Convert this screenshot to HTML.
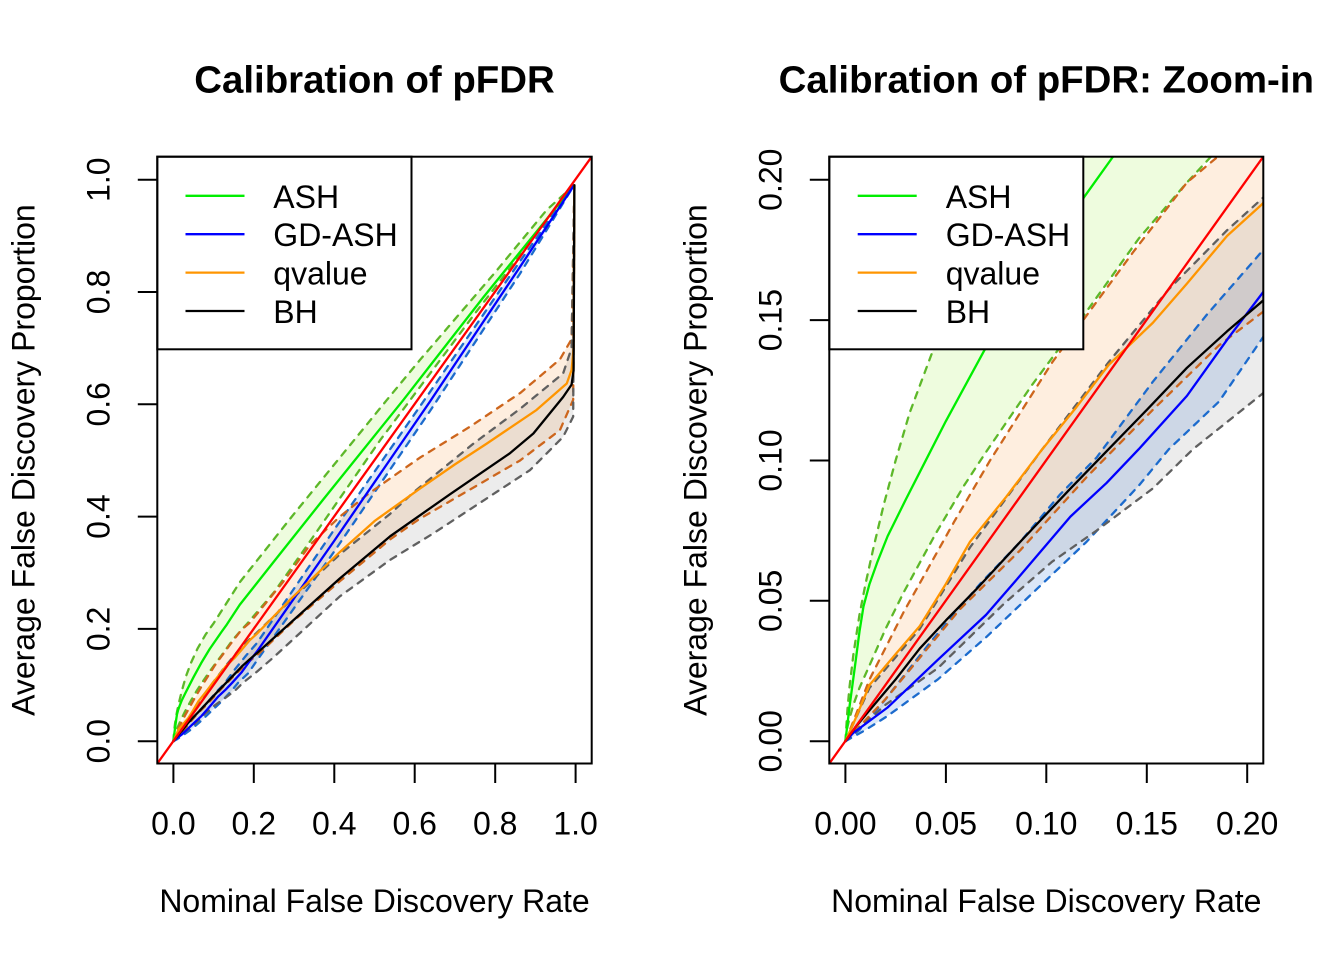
<!DOCTYPE html>
<html>
<head>
<meta charset="utf-8">
<style>
html,body{margin:0;padding:0;background:#fff;width:1344px;height:960px;overflow:hidden;}
svg{display:block;}
text{font-family:"Liberation Sans",Arial,sans-serif;fill:#000;}
</style>
</head>
<body>
<svg width="1344" height="960" viewBox="0 0 1344 960" xmlns="http://www.w3.org/2000/svg">
<rect x="0" y="0" width="1344" height="960" fill="#fff"/>
<defs>
  <clipPath id="clipL"><rect x="157.3" y="156.7" width="434.4" height="606.8"/></clipPath>
  <clipPath id="clipR"><rect x="829.3" y="156.7" width="434" height="606.8"/></clipPath>
  <g id="data">
    <!-- bands -->
    <polygon fill="#78E600" fill-opacity="0.13" points="0,0 1,11 2,19 4,31 7,45 10,56 14,69 19,84 25,100 32,117 44,140 60,165 80,190 100,210 166,284 300,405 531,608 613,679 800,835 928,946 996,990 750,762 514,536 331,347 250,265 183,209 170,199 146,179 120,153 93,127 70,103 59,91 45,74 29,53 20,40 12,27 7,19 4,13 2,8 1,5 0,0"/>
    <polygon fill="#286ED8" fill-opacity="0.17" points="0,0 7,4 20,15 42,35 67,56 87,71 107,88 125,101 153,128 180,152 208,175 400,377 638,622 862,855 996,990 862,833 638,588 400,338 208,144 186,121 161,104 146,91 120,71 95,54 70,37 46,22 21,9 10,4 0,0"/>
    <polygon fill="#F78C28" fill-opacity="0.15" points="0,0 5,9 12,22 29,46 54,78 72,100 103,135 143,174 170,199 190,211 273,284 340,350 414,400 480,438 539,468 613,505 737,560 862,620 961,680 990,716 997,990 994,608 961,554 862,500 737,448 610,395 540,360 414,285 300,215 208,153 186,141 153,118 120,94 87,68 57,47 20,15 0,0"/>
    <polygon fill="#808080" fill-opacity="0.15" points="0,0 12,19 37,40 62,69 98,104 131,135 161,161 190,182 207,193 290,250 414,333 539,405 600,445 746,530 862,592 969,655 990,700 997,990 994,578 969,542 887,483 646,370 539,323 414,258 250,150 208,124 173,104 153,90 125,75 103,64 79,49 46,26 20,13 0,0"/>
    <!-- dashed bounds -->
    <g fill="none" stroke-width="2.3" stroke-dasharray="6.5 7" stroke-linecap="round" stroke-linejoin="round">
      <polyline vector-effect="non-scaling-stroke" stroke="#5DB829" points="0,0 1,11 2,19 4,31 7,45 10,56 14,69 19,84 25,100 32,117 44,140 60,165 80,190 100,210 166,284 300,405 531,608 613,679 800,835 928,946 996,990"/>
      <polyline vector-effect="non-scaling-stroke" stroke="#5DB829" points="0,0 1,5 2,8 4,13 7,19 12,27 20,40 29,53 45,74 59,91 70,103 93,127 120,153 146,179 170,199 183,209 250,265 331,347 514,536 750,762 996,990"/>
      <polyline vector-effect="non-scaling-stroke" stroke="#1C6BCD" points="0,0 7,4 20,15 42,35 67,56 87,71 107,88 125,101 153,128 180,152 208,175 400,377 638,622 862,855 996,990"/>
      <polyline vector-effect="non-scaling-stroke" stroke="#1C6BCD" points="0,0 10,4 21,9 46,22 70,37 95,54 120,71 146,91 161,104 186,121 208,144 400,338 638,588 862,833 996,990"/>
      <polyline vector-effect="non-scaling-stroke" stroke="#CD661D" points="0,0 5,9 12,22 29,46 54,78 72,100 103,135 143,174 170,199 190,211 273,284 340,350 414,400 480,438 539,468 613,505 737,560 862,620 961,680 990,716 997,990"/>
      <polyline vector-effect="non-scaling-stroke" stroke="#CD661D" points="0,0 20,15 57,47 87,68 120,94 153,118 186,141 208,153 300,215 414,285 540,360 610,395 737,448 862,500 961,554 994,608 997,990"/>
      <polyline vector-effect="non-scaling-stroke" stroke="#606060" points="0,0 12,19 37,40 62,69 98,104 131,135 161,161 190,182 207,193 290,250 414,333 539,405 600,445 746,530 862,592 969,655 990,700 997,990"/>
      <polyline vector-effect="non-scaling-stroke" stroke="#606060" points="0,0 20,13 46,26 79,49 103,64 125,75 153,90 173,104 208,124 250,150 414,258 539,323 646,370 887,483 969,542 994,578 997,990"/>
    </g>
    <!-- means -->
    <g fill="none" stroke-width="2.3" stroke-linecap="round" stroke-linejoin="round">
      <polyline vector-effect="non-scaling-stroke" stroke="#00EE00" points="0,0 0.5,3 1,6 2,12 3.5,20 5,28 7,39 9,48 12,56 16,64 21,73 30,86 40,100 50,114 69,139 90,164 119,194 133,208 165,243 250,320 372,430 572,608 770,790 900,905 996,990"/>
      <polyline vector-effect="non-scaling-stroke" stroke="#0000FF" points="0,0 4,3 21,12 46,29 70,45 87,59 112,80 130,92 146,104 170,123 191,144 208,160 400,357 638,605 862,845 996,990"/>
      <polyline vector-effect="non-scaling-stroke" stroke="#FF9500" points="0,0 5,8 12,20 25,31 37,41 50,56 62,71 80,87 98,104 115,119 131,134 153,149 170,163 190,180 207,191 290,252 414,337 500,392 613,450 700,493 779,530 903,590 978,637 990,661 995,700 997,990"/>
      <polyline vector-effect="non-scaling-stroke" stroke="#000000" points="0,0 5,5 12,11 25,22 37,33 50,43 65,54 87,71 112,90 131,104 150,118 170,133 190,146 208,157 290,210 414,290 539,365 688,440 837,513 895,548 969,613 990,635 995,660 997,990"/>
    </g>
  </g>
</defs>

<!-- LEFT PLOT -->
<g clip-path="url(#clipL)">
  <use href="#data" transform="matrix(0.4022,0,0,-0.5615,173.4,741.2)"/>
  <line x1="157.3" y1="763.5" x2="591.7" y2="156.7" stroke="#FF0000" stroke-width="2.3"/>
</g>
<rect x="157.3" y="156.7" width="254.2" height="192.6" fill="#fff" stroke="#000" stroke-width="2"/>
<g stroke-width="2.3">
  <line x1="185.5" y1="195.8" x2="244.5" y2="195.8" stroke="#00EE00"/>
  <line x1="185.5" y1="234.2" x2="244.5" y2="234.2" stroke="#0000FF"/>
  <line x1="185.5" y1="272.6" x2="244.5" y2="272.6" stroke="#FF9500"/>
  <line x1="185.5" y1="311.0" x2="244.5" y2="311.0" stroke="#000"/>
</g>
<g font-size="32">
  <text x="273.3" y="207.8">ASH</text>
  <text x="273.3" y="246.2">GD-ASH</text>
  <text x="273.3" y="284.6">qvalue</text>
  <text x="273.3" y="323.0">BH</text>
</g>
<rect x="157.3" y="156.7" width="434.4" height="606.8" fill="none" stroke="#000" stroke-width="2"/>
<g stroke="#000" stroke-width="2">
  <line x1="173.4" y1="763.5" x2="173.4" y2="783"/>
  <line x1="253.8" y1="763.5" x2="253.8" y2="783"/>
  <line x1="334.3" y1="763.5" x2="334.3" y2="783"/>
  <line x1="414.7" y1="763.5" x2="414.7" y2="783"/>
  <line x1="495.2" y1="763.5" x2="495.2" y2="783"/>
  <line x1="575.6" y1="763.5" x2="575.6" y2="783"/>
  <line x1="157.3" y1="741.2" x2="137.8" y2="741.2"/>
  <line x1="157.3" y1="628.9" x2="137.8" y2="628.9"/>
  <line x1="157.3" y1="516.6" x2="137.8" y2="516.6"/>
  <line x1="157.3" y1="404.3" x2="137.8" y2="404.3"/>
  <line x1="157.3" y1="292.0" x2="137.8" y2="292.0"/>
  <line x1="157.3" y1="179.7" x2="137.8" y2="179.7"/>
</g>
<g font-size="32" text-anchor="middle">
  <text x="173.4" y="834.3">0.0</text>
  <text x="253.8" y="834.3">0.2</text>
  <text x="334.3" y="834.3">0.4</text>
  <text x="414.7" y="834.3">0.6</text>
  <text x="495.2" y="834.3">0.8</text>
  <text x="575.6" y="834.3">1.0</text>
  <text transform="translate(109.5,741.2) rotate(-90)">0.0</text>
  <text transform="translate(109.5,628.9) rotate(-90)">0.2</text>
  <text transform="translate(109.5,516.6) rotate(-90)">0.4</text>
  <text transform="translate(109.5,404.3) rotate(-90)">0.6</text>
  <text transform="translate(109.5,292.0) rotate(-90)">0.8</text>
  <text transform="translate(109.5,179.7) rotate(-90)">1.0</text>
  <text x="374.5" y="912">Nominal False Discovery Rate</text>
  <text transform="translate(34.5,460.1) rotate(-90)">Average False Discovery Proportion</text>
  <text x="374.5" y="92.5" font-size="38.4" font-weight="bold">Calibration of pFDR</text>
</g>

<!-- RIGHT PLOT -->
<g clip-path="url(#clipR)">
  <use href="#data" transform="matrix(2.009,0,0,-2.8075,845.4,741.2)"/>
  <line x1="829.3" y1="763.5" x2="1263.3" y2="156.7" stroke="#FF0000" stroke-width="2.3"/>
</g>
<rect x="829.3" y="156.7" width="254" height="192.6" fill="#fff" stroke="#000" stroke-width="2"/>
<g stroke-width="2.3">
  <line x1="857.7" y1="195.8" x2="916.7" y2="195.8" stroke="#00EE00"/>
  <line x1="857.7" y1="234.2" x2="916.7" y2="234.2" stroke="#0000FF"/>
  <line x1="857.7" y1="272.6" x2="916.7" y2="272.6" stroke="#FF9500"/>
  <line x1="857.7" y1="311.0" x2="916.7" y2="311.0" stroke="#000"/>
</g>
<g font-size="32">
  <text x="945.7" y="207.8">ASH</text>
  <text x="945.7" y="246.2">GD-ASH</text>
  <text x="945.7" y="284.6">qvalue</text>
  <text x="945.7" y="323.0">BH</text>
</g>
<rect x="829.3" y="156.7" width="434" height="606.8" fill="none" stroke="#000" stroke-width="2"/>
<g stroke="#000" stroke-width="2">
  <line x1="845.4" y1="763.5" x2="845.4" y2="783"/>
  <line x1="945.9" y1="763.5" x2="945.9" y2="783"/>
  <line x1="1046.3" y1="763.5" x2="1046.3" y2="783"/>
  <line x1="1146.8" y1="763.5" x2="1146.8" y2="783"/>
  <line x1="1247.2" y1="763.5" x2="1247.2" y2="783"/>
  <line x1="829.3" y1="741.2" x2="809.8" y2="741.2"/>
  <line x1="829.3" y1="600.8" x2="809.8" y2="600.8"/>
  <line x1="829.3" y1="460.5" x2="809.8" y2="460.5"/>
  <line x1="829.3" y1="320.1" x2="809.8" y2="320.1"/>
  <line x1="829.3" y1="179.7" x2="809.8" y2="179.7"/>
</g>
<g font-size="32" text-anchor="middle">
  <text x="845.4" y="834.3">0.00</text>
  <text x="945.9" y="834.3">0.05</text>
  <text x="1046.3" y="834.3">0.10</text>
  <text x="1146.8" y="834.3">0.15</text>
  <text x="1247.2" y="834.3">0.20</text>
  <text transform="translate(781.5,741.2) rotate(-90)">0.00</text>
  <text transform="translate(781.5,600.8) rotate(-90)">0.05</text>
  <text transform="translate(781.5,460.5) rotate(-90)">0.10</text>
  <text transform="translate(781.5,320.1) rotate(-90)">0.15</text>
  <text transform="translate(781.5,179.7) rotate(-90)">0.20</text>
  <text x="1046.3" y="912">Nominal False Discovery Rate</text>
  <text transform="translate(706.5,460.1) rotate(-90)">Average False Discovery Proportion</text>
  <text x="1046.3" y="92.5" font-size="38.4" font-weight="bold">Calibration of pFDR: Zoom-in</text>
</g>
</svg>
</body>
</html>
